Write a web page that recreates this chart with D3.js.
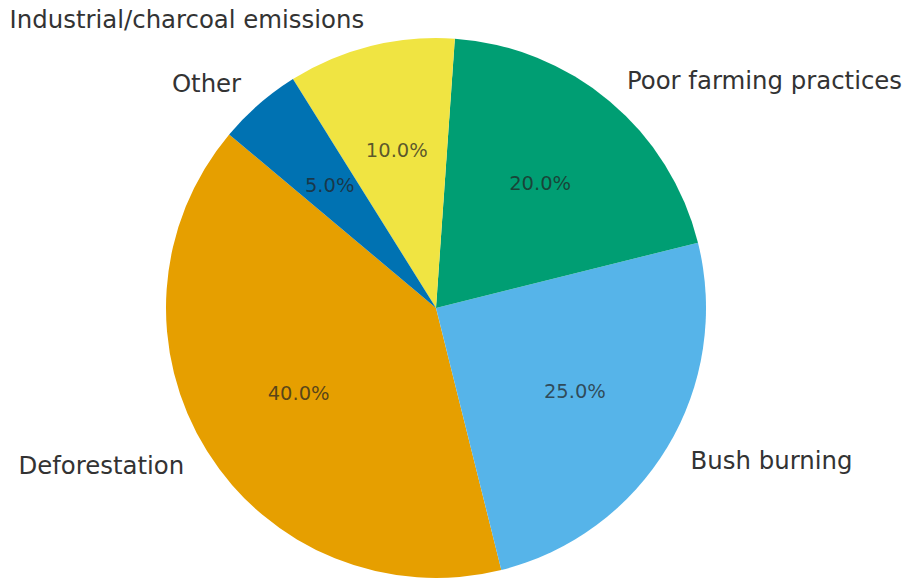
<!DOCTYPE html>
<html>
<head>
<meta charset="utf-8">
<script src="https://cdn.jsdelivr.net/npm/d3@7/dist/d3.min.js"></script>
<style>
  html, body { margin: 0; padding: 0; background: #fff; }
  svg { display: block; }
</style>
</head>
<body>
<svg id="chart" width="909" height="581"></svg>
<script>
const categories = ["Deforestation", "Bush burning", "Poor farming practices", "Industrial/charcoal emissions", "Other"];
const values = [40, 25, 20, 10, 5];
const colors = ["#E69F00", "#56B4E9", "#009E73", "#F0E442", "#0072B2"];

const W = 909, H = 581;
const cx = 436, cy = 308, R = 270;
const startDeg = 140; // matplotlib startangle, counter-clockwise

const svg = d3.select("#chart");
const g = svg.append("g").attr("transform", `translate(${cx},${cy})`);

const total = d3.sum(values);
const angScale = d3.scaleLinear().domain([0, total]).range([startDeg, startDeg + 360]);
const cum = d3.cumsum(values);
const slices = categories.map((c, i) => {
  const a0 = angScale(i === 0 ? 0 : cum[i - 1]);
  const a1 = angScale(cum[i]);
  return { cat: c, value: values[i], color: colors[i], a0, a1 };
});

const toD3 = deg => (90 - deg) * Math.PI / 180;
const arc = d3.arc().innerRadius(0).outerRadius(R);

g.selectAll("path.slice").data(slices).enter().append("path")
  .attr("class", "slice")
  .attr("d", d => arc({ startAngle: toD3(d.a1), endAngle: toD3(d.a0) }))
  .attr("fill", d => d.color);

const fmt = d3.format(".1f");
slices.forEach(d => {
  const mid = (d.a0 + d.a1) / 2 * Math.PI / 180;
  const ux = Math.cos(mid), uy = -Math.sin(mid);
  g.append("text")
    .attr("x", 1.1 * R * ux)
    .attr("y", 1.1 * R * uy)
    .attr("text-anchor", ux > 0 ? "start" : "end")
    .attr("dominant-baseline", "central")
    .attr("font-family", "DejaVu Sans, sans-serif")
    .attr("font-size", "24.4px")
    .attr("fill", "#333333")
    .text(d.cat);
  g.append("text")
    .attr("x", 0.6 * R * ux)
    .attr("y", 0.6 * R * uy)
    .attr("text-anchor", "middle")
    .attr("dominant-baseline", "central")
    .attr("font-family", "DejaVu Sans, sans-serif")
    .attr("font-size", "19.5px")
    .attr("fill", "#222222")
    .attr("fill-opacity", 0.72)
    .text(fmt(d.value / total * 100) + "%");
});
</script>
</body>
</html>
